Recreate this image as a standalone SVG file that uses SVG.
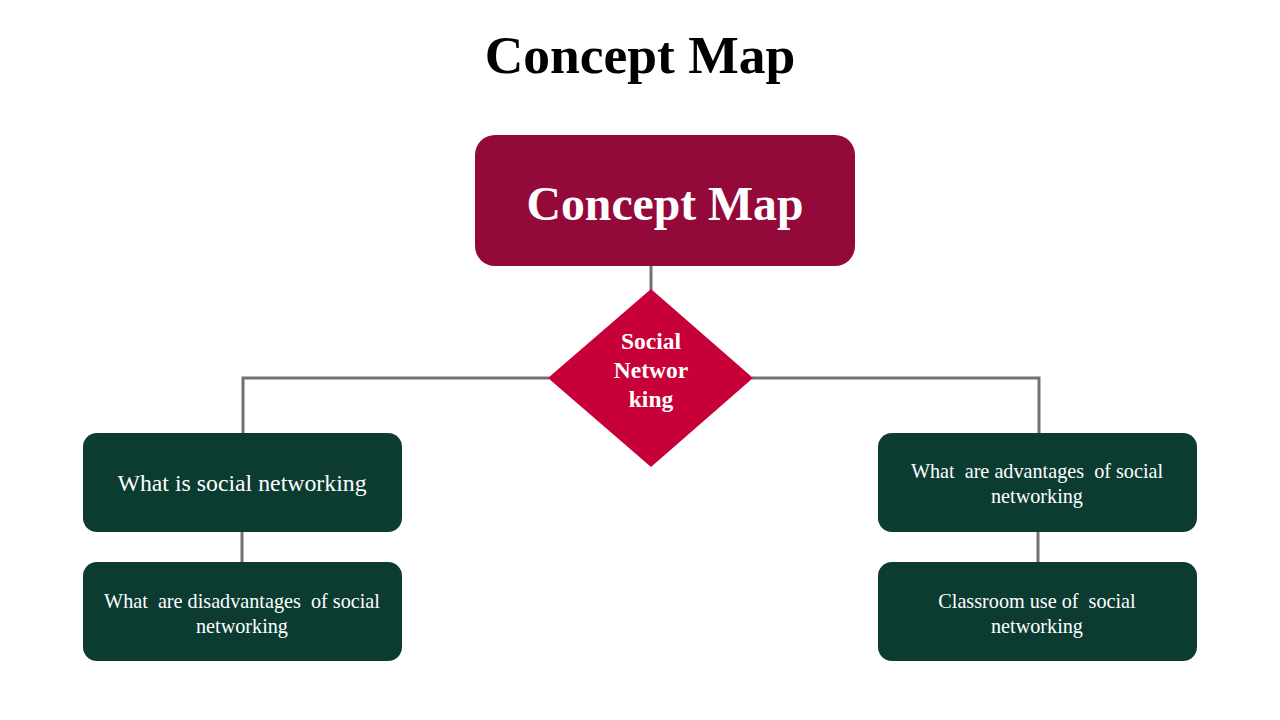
<svg xmlns="http://www.w3.org/2000/svg" width="1280" height="720" viewBox="0 0 1280 720">
<style>
.t{font-family:"Liberation Serif","Times New Roman",serif;fill:#fff;text-anchor:middle;white-space:pre}
.b{font-weight:bold}
.g{fill:#0B3B31}
.c{stroke:#767171;stroke-width:3;fill:none}
</style>
<rect width="1280" height="720" fill="#fff"/>
<text x="640" y="73" font-family="Liberation Serif, Times New Roman, serif" font-weight="bold" font-size="53.5" text-anchor="middle" fill="#000">Concept Map</text>
<g id="connectors">
<line class="c" x1="651" y1="266" x2="651" y2="290"/>
<polyline class="c" points="549,378 243,378 243,434"/>
<polyline class="c" points="752,378 1039,378 1039,434"/>
<line class="c" x1="242" y1="532" x2="242" y2="563"/>
<line class="c" x1="1038" y1="532" x2="1038" y2="563"/>
</g>
<g id="root">
<rect x="475" y="135" width="380" height="131" rx="20" fill="#930A3A"/>
<text class="t b" x="665" y="220" font-size="47.7">Concept Map</text>
</g>
<g id="diamond">
<polygon points="651,289 753,378 651,467 548,378" fill="#C8003A"/>
<text class="t b" x="651" y="349" font-size="23.5">Social</text>
<text class="t b" x="651" y="378" font-size="23.5">Networ</text>
<text class="t b" x="651" y="407" font-size="23.5">king</text>
</g>
<g id="n1">
<rect class="g" x="83" y="433" width="319" height="99" rx="14"/>
<text class="t" x="242" y="491" font-size="23.8" xml:space="preserve">What is social networking</text>
</g>
<g id="n2">
<rect class="g" x="83" y="562" width="319" height="99" rx="14"/>
<text class="t" x="242" y="608" font-size="20.2" xml:space="preserve">What  are disadvantages  of social</text>
<text class="t" x="242" y="633" font-size="20.2">networking</text>
</g>
<g id="n3">
<rect class="g" x="878" y="433" width="319" height="99" rx="14"/>
<text class="t" x="1037" y="478" font-size="20.2" xml:space="preserve">What  are advantages  of social</text>
<text class="t" x="1037" y="503" font-size="20.2">networking</text>
</g>
<g id="n4">
<rect class="g" x="878" y="562" width="319" height="99" rx="14"/>
<text class="t" x="1037" y="608" font-size="20.2" xml:space="preserve">Classroom use of  social</text>
<text class="t" x="1037" y="633" font-size="20.2">networking</text>
</g>
</svg>
